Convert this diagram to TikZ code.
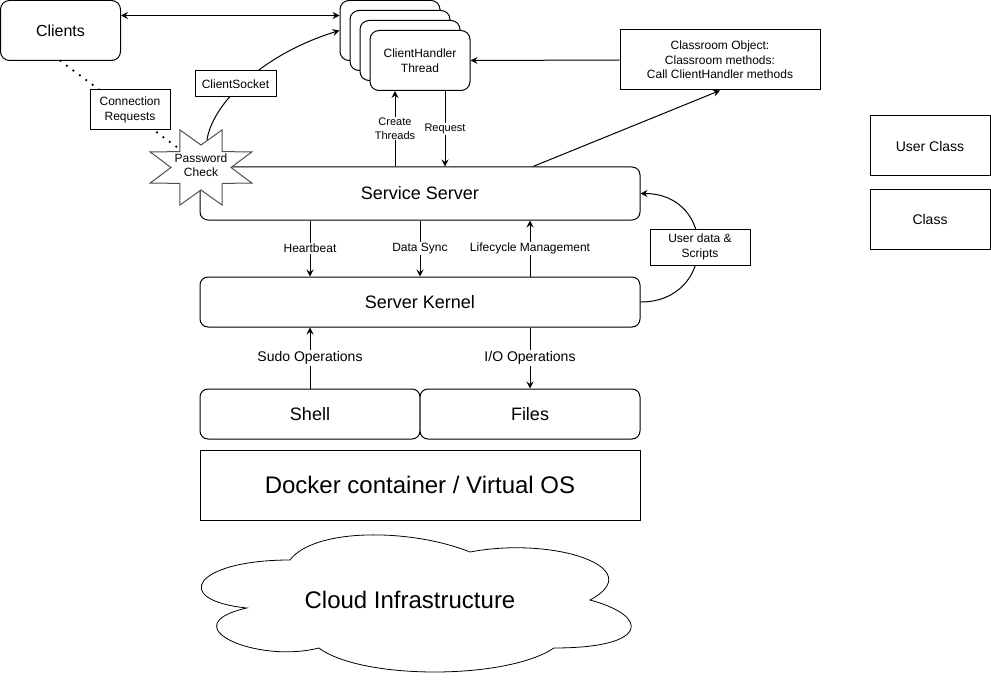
\documentclass[tikz,border=0pt]{standalone}
\usepackage{fontspec}
\setmainfont{Liberation Sans}
\usetikzlibrary{arrows.meta}
\definecolor{stargray}{RGB}{80,80,80}
\begin{document}
\begin{tikzpicture}[x=1pt,y=-1pt,line width=1pt,
  f11/.style={font=\fontsize{11}{13.5}\selectfont},
  f12/.style={font=\fontsize{12}{14.5}\selectfont},
  f14/.style={font=\fontsize{14}{17}\selectfont},
  f16/.style={font=\fontsize{16}{19}\selectfont},
  f18/.style={font=\fontsize{18}{21}\selectfont},
  f24/.style={font=\fontsize{24}{28}\selectfont},
  rbox/.style={draw,fill=white,rounded corners=8pt,inner sep=0pt,align=center},
  sbox/.style={draw,fill=white,inner sep=0pt,align=center},
  arr/.style={-{Stealth[length=7pt,width=7pt,inset=2.5pt]}},
  darr/.style={{Stealth[length=7pt,width=7pt,inset=2.5pt]}-{Stealth[length=7pt,width=7pt,inset=2.5pt]}},
  elbl/.style={fill=white,inner sep=1pt,align=center},
  dotline/.style={line width=2.5pt,line cap=round,dash pattern=on 0pt off 8pt},
]
\useasboundingbox (0,0) rectangle (991,682);

% cloud
\draw[fill=white,line width=0.8pt] (290,560) .. controls (194,560) and (170,600) .. (246.8,608)
  .. controls (170,625.6) and (256.4,664) .. (318.8,648)
  .. controls (362,680) and (506,680) .. (554,648)
  .. controls (650,648) and (650,616) .. (590,600)
  .. controls (650,568) and (554,536) .. (470,552)
  .. controls (410,528) and (314,528) .. (290,560) -- cycle;
\node[f24] (cloud) at (410,600) {Cloud Infrastructure};

% main boxes
\node[rbox,f16,minimum width=120pt,minimum height=60pt,rounded corners=9pt] (clients) at (60.5,30.5) {Clients};
\node[rbox,minimum width=100pt,minimum height=60pt,rounded corners=9pt] (h3) at (390,30.5) {};
\node[rbox,minimum width=100pt,minimum height=60pt,rounded corners=9pt] (h2) at (400,40.5) {};
\node[rbox,minimum width=100pt,minimum height=60pt,rounded corners=9pt] (h1) at (410,50.5) {};
\node[rbox,f12,minimum width=100pt,minimum height=60pt,rounded corners=9pt] (handler) at (420,60.5) {ClientHandler\\Thread};
\node[sbox,f12,minimum width=200pt,minimum height=60pt] (cls) at (720,60) {Classroom Object:\\Classroom methods:\\Call ClientHandler methods};

\node[rbox,f18,minimum width=440pt,minimum height=53pt] (ss) at (420,193.5) {Service Server};
\node[rbox,f18,minimum width=440pt,minimum height=50pt] (sk) at (420,302) {Server Kernel};
\node[rbox,f18,minimum width=220pt,minimum height=50pt] (shell) at (310,414) {Shell};
\node[rbox,f18,minimum width=220pt,minimum height=50pt] (files) at (530,414) {Files};
\node[sbox,f24,minimum width=440pt,minimum height=70pt] (docker) at (420,485) {Docker container / Virtual OS};

\node[sbox,f14,minimum width=120pt,minimum height=60pt] (userclass) at (930,146) {User Class};
\node[sbox,f14,minimum width=120pt,minimum height=60pt] (classbox) at (930,219.5) {Class};

% connectors
\draw[darr] ([yshift=15pt]clients.east) -- ([yshift=15pt]h3.west);
\draw[arr] (cls.west) -- (handler.east);
\draw[arr] ([xshift=113pt]ss.north) -- (cls.south);
\draw[arr] ([xshift=-25pt]ss.north) -- ([xshift=-25pt]handler.south)
  node[midway,elbl,f11] (ctlbl) {Create\\Threads};
\draw[arr] ([xshift=25pt]handler.south) -- ([xshift=25pt]ss.north)
  node[midway,elbl,f11] (rqlbl) {Request};
\draw[arr] ([xshift=-110pt]ss.south) -- ([xshift=-110pt]sk.north)
  node[midway,elbl,f12] (hblbl) {Heartbeat};
\draw[arr] (ss.south) -- (sk.north)
  node[midway,elbl,f12] (dslbl) {Data Sync};
\draw[arr] ([xshift=110pt]sk.north) -- ([xshift=110pt]ss.south)
  node[midway,elbl,f12] (lmlbl) {Lifecycle Management};
\draw[arr] (shell.north) -- ([xshift=-110pt]sk.south)
  node[midway,elbl,f14] (sulbl) {Sudo Operations};
\draw[arr] ([xshift=110pt]sk.south) -- (files.north)
  node[midway,elbl,f14] (iolbl) {I/O Operations};
\draw[arr] (sk.east) .. controls (717,302) and (717,193.5) .. (ss.east);
\node[sbox,f12,minimum width=100pt,minimum height=36pt] (ud) at (700,247) {User data \&\\Scripts};

% password check
\node[f12,align=center,inner sep=0pt] (pw) at (201,165) {\phantom{Password}\\\phantom{Check}};
\draw[dotline] (clients.south) -- (pw.center);
\node[sbox,f12,minimum width=80pt,minimum height=40pt] (connreq) at (130,110) {Connection\\Requests};
\begin{scope}[shift={(201,167.5)}]
\draw[stargray,fill=white] (0:30 and 22.5) -- (22.5:55 and 40.6) -- (45:30 and 22.5) -- (67.5:55 and 40.6)
  -- (90:30 and 22.5) -- (112.5:55 and 40.6) -- (135:30 and 22.5) -- (157.5:55 and 40.6)
  -- (180:30 and 22.5) -- (202.5:55 and 40.6) -- (225:30 and 22.5) -- (247.5:55 and 40.6)
  -- (270:30 and 22.5) -- (292.5:55 and 40.6) -- (315:30 and 22.5) -- (337.5:55 and 40.6) -- cycle;
\end{scope}
\node[f12,align=center,inner sep=0pt] (pwtext) at (pw.center) {Password\\Check};
\draw[arr] ([xshift=6pt,yshift=25pt]pw.center) .. controls (212,105) and (260,55) .. (h3.west);
\node[sbox,f12,minimum width=81pt,minimum height=26pt] (sock) at (235.5,84) {ClientSocket};
\end{tikzpicture}
\end{document}
